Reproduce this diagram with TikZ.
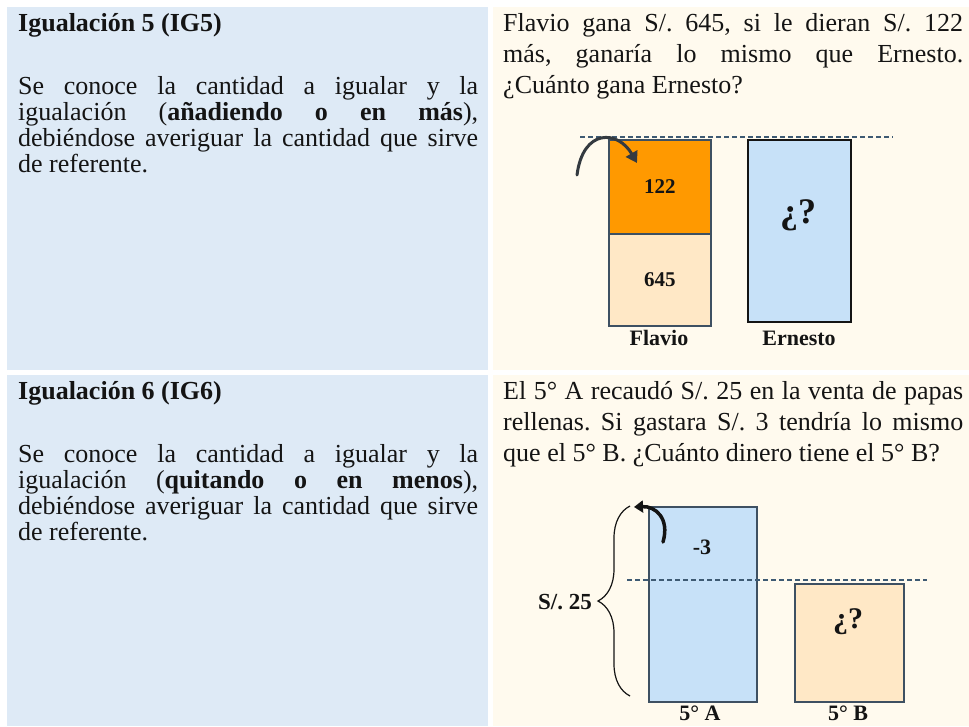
\documentclass[tikz,border=0pt]{standalone}
\usepackage{fontspec}
\setmainfont{Liberation Serif}
\usetikzlibrary{positioning, arrows.meta, calc, decorations.pathreplacing}
\definecolor{cellblue}{RGB}{222,234,246}
\definecolor{cellcream}{RGB}{255,250,238}
\definecolor{flavioup}{RGB}{255,153,0}
\definecolor{flaviolow}{RGB}{255,232,198}
\definecolor{boxblue}{RGB}{199,225,248}
\definecolor{barline}{RGB}{62,80,98}
\definecolor{dashline}{RGB}{62,90,115}
\definecolor{arrowgray}{RGB}{52,58,64}
\definecolor{inkdark}{RGB}{20,20,20}
\hbadness=10000
\frenchspacing
\newcommand{\cellpar}[2]{\parbox[t]{460pt}{\fontsize{26}{#1}\selectfont\frenchspacing\tolerance=10000 #2}}

\begin{document}
\begin{tikzpicture}[x=1pt, y=-1pt, font=\fontsize{26}{26}\selectfont,
          txt/.style={inner sep=0pt, anchor=base west, text=inkdark},
          head/.style={txt, font=\fontsize{26}{26}\selectfont\bfseries},
          bar/.style={draw=barline, line width=1.6pt, inner sep=0pt, anchor=north west, text=inkdark, font=\fontsize{21}{24}\selectfont\bfseries},
          lbl/.style={inner sep=0pt, text=inkdark, font=\fontsize{22}{26}\selectfont\bfseries},
          level/.style={draw=dashline, line width=1.2pt, dash pattern=on 5pt off 3pt},
          move/.style={draw=arrowgray, line width=3pt, line cap=round, -{Triangle[length=11pt, width=13pt]}}]
        \useasboundingbox (0,0) rectangle (969,726);
        \fill[white] (0,0) rectangle (969,726);
        \fill[cellblue]  (7,7)     rectangle (488,370);
        \fill[cellcream] (493,7)   rectangle (969,370);
        \fill[cellblue]  (7,375)   rectangle (488,726);
        \fill[cellcream] (493,375) rectangle (969,726);

        \node[head] (H5) at (18,31) {Igualación 5 (IG5)};
        \node[txt]  (P5) at (18,94) {\cellpar{26}{Se conoce la cantidad a igualar y la\linebreak igualación (\textbf{añadiendo o en más}),\linebreak debiéndose averiguar la cantidad que sirve\linebreak de referente.}};
        \node[txt]  (Q5) at (503,31) {\cellpar{31}{Flavio gana S/. 645, si le dieran S/. 122\linebreak más, ganaría lo mismo que Ernesto.\linebreak ¿Cuánto gana Ernesto?}};

        \node[head] (H6) at (18,399) {Igualación 6 (IG6)};
        \node[txt]  (P6) at (18,462) {\cellpar{26}{Se conoce la cantidad a igualar y la\linebreak igualación (\textbf{quitando o en menos}),\linebreak debiéndose averiguar la cantidad que sirve\linebreak de referente.}};
        \node[txt]  (Q6) at (503,399) {\cellpar{31}{El 5° A recaudó S/. 25 en la venta de papas\linebreak rellenas. Si gastara S/. 3 tendría lo mismo\linebreak que el 5° B. ¿Cuánto dinero tiene el 5° B?}};

        \coordinate (L1) at (580,137);
        \coordinate (L2) at (893,137);
        \draw[level] (L1) -- (L2);
        \node[bar, fill=flavioup, minimum width=102pt, minimum height=94pt] (F1) at (608,139) {122};
        \node[bar, fill=flaviolow, minimum width=102pt, minimum height=92pt] (F2) at (608,233) {645};
        \node[bar, draw=inkdark, fill=boxblue, minimum width=103pt, minimum height=182pt] (E) at (747,139) {};
        \node[lbl, font=\fontsize{36}{40}\selectfont\bfseries] (Eq) at (798,215) {¿?};
        \node[lbl] (Fn) at (659,338) {Flavio};
        \node[lbl] (En) at (799,338) {Ernesto};
        \coordinate (M0) at (577,175);
        \coordinate (M1) at (637,163);
        \draw[move] (M0) .. controls (583,128) and (618,130) .. (M1);

        \coordinate (K1) at (627,580);
        \coordinate (K2) at (927,580);
        \node[bar, fill=boxblue, minimum width=108pt, minimum height=195pt] (A) at (648,506) {};
        \node[bar, fill=flaviolow, minimum width=109pt, minimum height=118pt] (B) at (794,583) {};
        \draw[level] (K1) -- (K2);
        \node[lbl] (A3) at (702,547) {-3};
        \node[lbl, font=\fontsize{30}{34}\selectfont\bfseries] (Bq) at (848,622) {¿?};
        \node[lbl] (An) at (700,713) {5° A};
        \node[lbl] (Bn) at (848,713) {5° B};
        \coordinate (Z1) at (630,696);
        \coordinate (Z2) at (630,506);
        \draw[inkdark, line width=1.2pt, decorate, decoration={brace, amplitude=32pt}] (Z1) -- (Z2);
        \node[lbl, anchor=east, font=\fontsize{23}{26}\selectfont\bfseries] (S) at (592,602) {S/. 25};
        \coordinate (N0) at (663,542);
        \coordinate (N1) at (634,507);
        \draw[move, draw=inkdark, line width=3.5pt, -{Triangle[length=9pt, width=12pt]}] (N0) .. controls (670,518) and (655,506) .. (N1);
      \end{tikzpicture}
\end{document}
